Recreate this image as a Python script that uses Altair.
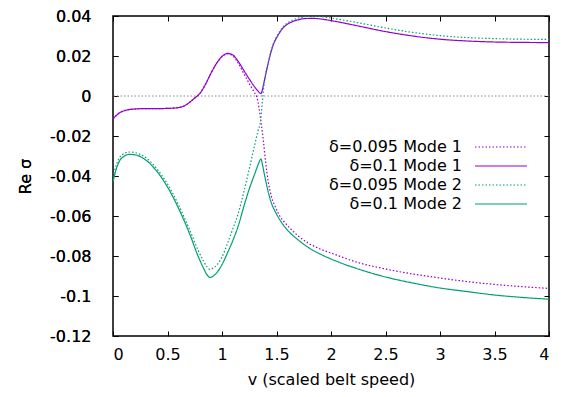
import altair as alt
import pandas as pd

# ---- data ----
v_m1_d10 = [0, 0.05, 0.1, 0.2, 0.3, 0.4, 0.5, 0.6, 0.65, 0.7, 0.75, 0.8, 0.85, 0.9, 0.95, 1.0,
            1.05, 1.1, 1.15, 1.2, 1.25, 1.3, 1.33, 1.358, 1.37, 1.39, 1.41, 1.44, 1.47, 1.51,
            1.56, 1.62, 1.69, 1.76, 1.84, 1.92, 2.0, 2.25, 2.5, 2.75, 3.0, 3.25, 3.5, 3.75, 4.0]
s_m1_d10 = [-0.0115, -0.0088, -0.0074, -0.0065, -0.0063, -0.0063, -0.0062, -0.0058, -0.0050,
            -0.0033, -0.0010, 0.0015, 0.0060, 0.0115, 0.0163, 0.0198, 0.0213, 0.0205, 0.0172,
            0.0128, 0.0085, 0.0045, 0.0025, 0.0012, 0.0030, 0.0080, 0.0130, 0.0200, 0.0255,
            0.0300, 0.0340, 0.0365, 0.0380, 0.0387, 0.0388, 0.0384, 0.0377, 0.0350, 0.0322,
            0.0300, 0.0284, 0.0275, 0.0270, 0.0268, 0.0267]

v_m1_d095 = [0, 0.05, 0.1, 0.2, 0.3, 0.4, 0.5, 0.6, 0.65, 0.7, 0.75, 0.8, 0.85, 0.9, 0.95, 1.0,
             1.05, 1.1, 1.15, 1.2, 1.25, 1.3, 1.32, 1.34, 1.355, 1.37, 1.38, 1.40, 1.425, 1.45,
             1.49, 1.53, 1.58, 1.64, 1.70, 1.80, 1.90, 2.0, 2.25, 2.5, 2.75, 3.0, 3.25, 3.5,
             3.75, 4.0]
s_m1_d095 = [-0.0115, -0.0088, -0.0074, -0.0065, -0.0063, -0.0063, -0.0062, -0.0058, -0.0050,
             -0.0033, -0.0010, 0.0015, 0.0060, 0.0115, 0.0162, 0.0196, 0.0211, 0.0200, 0.0163,
             0.0112, 0.0062, 0.0015, -0.0005, -0.0060, -0.0120, -0.0180, -0.0225, -0.0330,
             -0.0430, -0.0495, -0.0555, -0.0600, -0.0635, -0.0670, -0.0700, -0.0738, -0.0765,
             -0.0785, -0.0833, -0.0865, -0.0890, -0.0910, -0.0928, -0.0942, -0.0953, -0.0962]

v_m2_d10 = [0, 0.03, 0.06, 0.1, 0.15, 0.2, 0.3, 0.4, 0.5, 0.6, 0.7, 0.78, 0.83, 0.86, 0.89,
            0.92, 0.96, 1.0, 1.05, 1.1, 1.15, 1.2, 1.25, 1.3, 1.33, 1.358, 1.37, 1.39, 1.42,
            1.45, 1.5, 1.55, 1.6, 1.7, 1.8, 1.9, 2.0, 2.25, 2.5, 2.75, 3.0, 3.25, 3.5, 3.75, 4.0]
s_m2_d10 = [-0.0430, -0.0365, -0.0325, -0.0302, -0.0292, -0.0294, -0.0320, -0.0375, -0.0455,
            -0.0560, -0.0685, -0.0800, -0.0860, -0.0892, -0.0907, -0.0900, -0.0878, -0.0843,
            -0.0785, -0.0722, -0.0648, -0.0553, -0.0465, -0.0390, -0.0345, -0.0315, -0.0340,
            -0.0395, -0.0470, -0.0530, -0.0590, -0.0635, -0.0670, -0.0720, -0.0760, -0.0790,
            -0.0815, -0.0865, -0.0905, -0.0935, -0.0960, -0.0978, -0.0995, -0.1007, -0.1016]

v_m2_d095 = [0, 0.03, 0.06, 0.1, 0.15, 0.2, 0.3, 0.4, 0.5, 0.6, 0.7, 0.78, 0.83, 0.86, 0.89,
             0.92, 0.96, 1.0, 1.05, 1.1, 1.15, 1.2, 1.25, 1.3, 1.33, 1.355, 1.365, 1.375, 1.39,
             1.41, 1.44, 1.47, 1.51, 1.56, 1.62, 1.69, 1.76, 1.84, 1.92, 2.0, 2.25, 2.5, 2.75,
             3.0, 3.25, 3.5, 3.75, 4.0]
s_m2_d095 = [-0.0405, -0.0345, -0.0308, -0.0288, -0.0280, -0.0283, -0.0308, -0.0362, -0.0440,
             -0.0543, -0.0665, -0.0770, -0.0825, -0.0853, -0.0867, -0.0860, -0.0840, -0.0805,
             -0.0738, -0.0663, -0.0585, -0.0480, -0.0365, -0.0245, -0.0175, -0.0120, -0.0060,
             0.0000, 0.0075, 0.0135, 0.0205, 0.0260, 0.0305, 0.0345, 0.0372, 0.0388, 0.0396,
             0.0399, 0.0396, 0.0390, 0.0366, 0.0340, 0.0318, 0.0302, 0.0292, 0.0287, 0.0284,
             0.0283]

series_names = ["δ=0.095 Mode 1", "δ=0.1 Mode 1", "δ=0.095 Mode 2", "δ=0.1 Mode 2"]
series_v = [v_m1_d095, v_m1_d10, v_m2_d095, v_m2_d10]
series_s = [s_m1_d095, s_m1_d10, s_m2_d095, s_m2_d10]
colors = ["#9400d3", "#9400d3", "#009e73", "#009e73"]
dashes = [[1.5, 2], [1, 0], [1.5, 2], [1, 0]]

x_ticks = [0, 0.5, 1, 1.5, 2, 2.5, 3, 3.5, 4]
y_ticks = [0.04, 0.02, 0, -0.02, -0.04, -0.06, -0.08, -0.1, -0.12]

rows = []
for name, vs, ss in zip(series_names, series_v, series_s):
    for v, s in zip(vs, ss):
        rows.append({"series": name, "v": v, "sigma": s})
df = pd.DataFrame(rows)
one = pd.DataFrame({"k": [0]})

FONT = "DejaVu Sans"
W, H = 436, 320

xscale = alt.Scale(domain=[0, 4], nice=False, zero=False)
yscale = alt.Scale(domain=[-0.12, 0.04], nice=False, zero=False)

x_axis = alt.Axis(values=x_ticks, labelExpr="'' + datum.value", orient="bottom",
                  offset=-5, tickSize=5, domain=False, grid=False, labelPadding=10,
                  title="v (scaled belt speed)", titleY=40)
y_axis = alt.Axis(values=y_ticks, labelExpr="'' + datum.value", orient="left",
                  offset=-5, tickSize=5, domain=False, grid=False, labelPadding=22,
                  title="Re σ", titleX=-85)

zero = alt.Chart(one).mark_rule(color="#888888", strokeDash=[1.5, 2], strokeWidth=1).encode(
    y=alt.datum(0, scale=yscale, axis=y_axis),
)

lines = alt.Chart(df).mark_line(interpolate="monotone", clip=True, strokeWidth=1.2).encode(
    x=alt.X("v:Q", scale=xscale, axis=x_axis),
    y=alt.Y("sigma:Q", scale=yscale, axis=y_axis),
    color=alt.Color("series:N", scale=alt.Scale(domain=series_names, range=colors), legend=None),
    strokeDash=alt.StrokeDash("series:N", scale=alt.Scale(domain=series_names, range=dashes),
                              legend=None),
    detail="series:N",
)

ticks_tr = alt.Chart(df).mark_line(opacity=0).encode(
    x=alt.X("v:Q", scale=xscale,
            axis=alt.Axis(values=x_ticks, orient="top", offset=-5, tickSize=5, labels=False,
                          domain=False, grid=False, title=None)),
    y=alt.Y("sigma:Q", scale=yscale,
            axis=alt.Axis(values=y_ticks, orient="right", offset=-5, tickSize=5, labels=False,
                          domain=False, grid=False, title=None)),
    detail="series:N",
)

# manual gnuplot-style legend: text right-aligned, sample line to its right
legend_layers = []
for i, (name, col, dsh) in enumerate(zip(series_names, colors, dashes)):
    yy = 131 + 19 * i
    legend_layers.append(
        alt.Chart(one).mark_text(align="right", baseline="middle", font=FONT, fontSize=16,
                                 color="black").encode(
            x=alt.value(349), y=alt.value(yy), text=alt.value(name))
    )
    legend_layers.append(
        alt.Chart(one).mark_rule(color=col, strokeDash=dsh, strokeWidth=1.2).encode(
            x=alt.value(362), x2=alt.value(414), y=alt.value(yy))
    )

chart = alt.layer(zero, lines, ticks_tr, *legend_layers).resolve_axis(
    x="independent", y="independent"
).properties(
    width=W, height=H,
    padding={"left": 105, "top": 8, "right": 5, "bottom": 52},
    autosize=alt.AutoSizeParams(type="none"),
).configure_view(stroke="black", strokeWidth=1.5).configure_axis(
    labelFont=FONT, labelFontSize=16, labelColor="black",
    titleFont=FONT, titleFontSize=16, titleFontWeight="normal", titleColor="black",
    tickColor="black", tickWidth=1,
)

chart.save("out.html", embed_options={"renderer": "svg", "actions": False})
